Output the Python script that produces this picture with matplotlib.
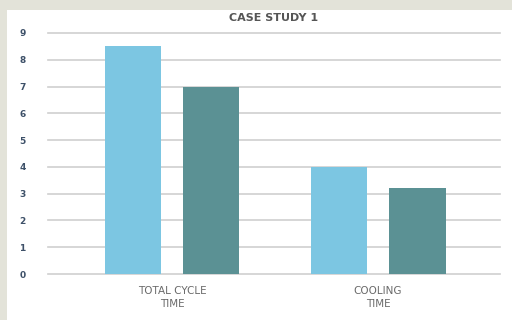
import matplotlib.pyplot as plt
import numpy as np

categories = ['TOTAL CYCLE\nTIME', 'COOLING\nTIME']
series_a = [8.5, 4.0]
series_b = [7.0, 3.2]
yticks = [0, 1, 2, 3, 4, 5, 6, 7, 8, 9]

light = '#7cc6e2'
dark = '#5b9194'

fig = plt.figure(figsize=(5.12, 3.2), dpi=100)
fig.patch.set_facecolor('#e3e3d9')

# white card behind the chart
bg = fig.add_axes([7 / 512, 0, 1 - 7 / 512, 1 - 10 / 320], zorder=0)
bg.set_facecolor('white')
bg.set_xticks([])
bg.set_yticks([])
for s in bg.spines.values():
    s.set_visible(False)

ax = fig.add_axes([48 / 512, 46 / 320, 452 / 512, 241 / 320], zorder=1)
ax.set_facecolor('none')

x = np.arange(len(categories))
w = 0.275
ax.bar(x - 0.19, series_a, width=w, color=light, zorder=3)
ax.bar(x + 0.19, series_b, width=w, color=dark, zorder=3)

ax.set_xlim(-0.602, 1.592)
ax.set_ylim(0, 9)
ax.set_yticks(yticks)
ax.set_yticklabels([str(t) for t in yticks], fontsize=6.5, fontweight='bold', color='#3d5068')
ax.set_xticks(x)
ax.set_xticklabels(categories, fontsize=7.5, color='#6a6a6a', linespacing=1.35)
ax.tick_params(axis='y', length=0, pad=16)
ax.tick_params(axis='x', length=0, pad=9)
ax.grid(axis='y', color='#cfcfcf', linewidth=1.2, zorder=0)
for line in ax.get_ygridlines():
    line.set_clip_on(False)
for s in ax.spines.values():
    s.set_visible(False)

fig.text(274 / 512, 1 - 18 / 320, 'CASE STUDY 1', ha='center', va='center',
         fontsize=8, fontweight='bold', color='#555555')

fig.savefig('out.png', dpi=100, facecolor=fig.get_facecolor())
